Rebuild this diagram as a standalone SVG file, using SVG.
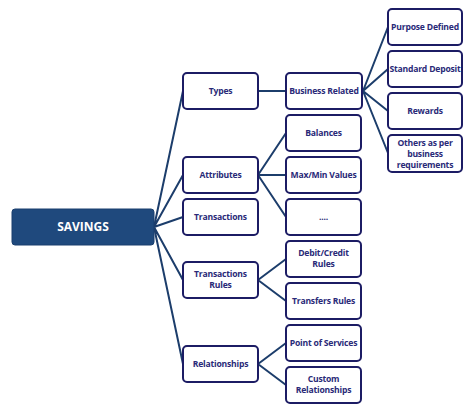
<svg xmlns="http://www.w3.org/2000/svg" width="475" height="413" viewBox="0 0 475 413">
<style>
.b{fill:#fff;stroke:#1c1c64;stroke-width:2}
.t{font-family:"Open Sans","Liberation Sans",sans-serif;font-weight:bold;font-size:8.6px;fill:#2a2a78;text-anchor:middle;letter-spacing:-0.2px}
.c{stroke:#1c3d6b;stroke-width:2;fill:none}
</style>
<rect width="475" height="413" fill="#fff"/>
<g id="connectors">
<path class="c" d="M154 227L183 91M154 227L183 175M154 227L183 217M154 227L183 280M154 227L183 364"/>
<path class="c" d="M258 91H286M363 91L388 27M363 91L388 69M363 91L388 111M363 91L388 153"/>
<path class="c" d="M258 175L286 133M258 175H286M258 175L286 217"/>
<path class="c" d="M258 280L286 259M258 280L286 301M258 364L286 343M258 364L286 385"/>
</g>
<g id="savings"><rect x="12" y="209" width="142" height="36" rx="3" fill="#1f497d" stroke="#1a3f6e" stroke-width="1"/><text x="83" y="231" font-family="Open Sans,Liberation Sans,sans-serif" font-weight="bold" font-size="12" fill="#fff" text-anchor="middle">SAVINGS</text></g>
<g id="types"><rect class="b" x="183" y="73" width="75" height="36" rx="4"/><text class="t" x="220.5" y="94">Types</text></g>
<g id="attributes"><rect class="b" x="183" y="157" width="75" height="36" rx="4"/><text class="t" x="220.5" y="178">Attributes</text></g>
<g id="transactions"><rect class="b" x="183" y="199" width="75" height="36" rx="4"/><text class="t" x="220.5" y="220">Transactions</text></g>
<g id="transactions-rules"><rect class="b" x="183" y="262" width="75" height="36" rx="4"/><text class="t" x="220.5" y="277">Transactions</text><text class="t" x="220.5" y="288">Rules</text></g>
<g id="relationships"><rect class="b" x="183" y="346" width="75" height="36" rx="4"/><text class="t" x="220.5" y="367">Relationships</text></g>
<g id="business-related"><rect class="b" x="286" y="73" width="76" height="36" rx="4"/><text class="t" x="324" y="94">Business Related</text></g>
<g id="balances"><rect class="b" x="286" y="115" width="75" height="36" rx="4"/><text class="t" x="323.5" y="136">Balances</text></g>
<g id="maxmin"><rect class="b" x="286" y="157" width="75" height="36" rx="4"/><text class="t" x="323.5" y="178">Max/Min Values</text></g>
<g id="dots"><rect class="b" x="286" y="199" width="75" height="36" rx="4"/><text class="t" x="323.5" y="220">....</text></g>
<g id="debit-credit"><rect class="b" x="286" y="241" width="75" height="36" rx="4"/><text class="t" x="323.5" y="256">Debit/Credit</text><text class="t" x="323.5" y="267">Rules</text></g>
<g id="transfers"><rect class="b" x="286" y="283" width="75" height="36" rx="4"/><text class="t" x="323.5" y="304">Transfers Rules</text></g>
<g id="point-of-services"><rect class="b" x="286" y="325" width="75" height="36" rx="4"/><text class="t" x="323.5" y="346">Point of Services</text></g>
<g id="custom"><rect class="b" x="286" y="367" width="75" height="36" rx="4"/><text class="t" x="323.5" y="382">Custom</text><text class="t" x="323.5" y="393">Relationships</text></g>
<g id="purpose"><rect class="b" x="388" y="9" width="74" height="36" rx="4"/><text class="t" x="425" y="30">Purpose Defined</text></g>
<g id="standard"><rect class="b" x="388" y="51" width="74" height="36" rx="4"/><text class="t" x="425" y="72">Standard Deposit</text></g>
<g id="rewards"><rect class="b" x="388" y="93" width="74" height="36" rx="4"/><text class="t" x="425" y="114">Rewards</text></g>
<g id="others"><rect class="b" x="388" y="135" width="74" height="37" rx="4"/><text class="t" x="425" y="146">Others as per</text><text class="t" x="425" y="157">business</text><text class="t" x="425" y="168">requirements</text></g>
</svg>
